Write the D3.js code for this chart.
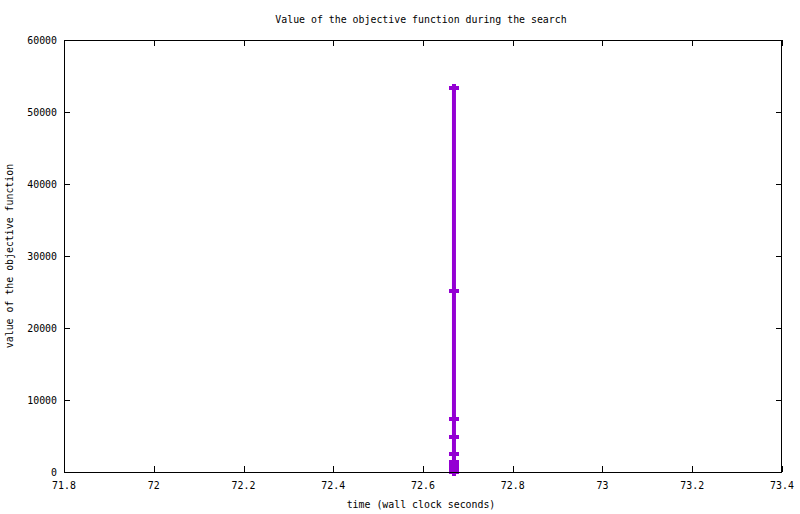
<!DOCTYPE html>
<html><head><meta charset="utf-8">
<script src="https://cdn.jsdelivr.net/npm/d3@7"></script>
<style>body{margin:0;background:#fff}svg text{font-family:"DejaVu Sans Mono","Liberation Mono",monospace;font-size:9.9px;fill:#000}</style>
</head><body>
<svg id="c" width="800" height="514"></svg>
<script>
const timeValues = [72.669,72.669,72.669,72.669,72.669,72.669,72.669,72.669,72.669,72.669,72.669,72.669];
const objectiveValues = [53300,25200,7400,4800,2500,1400,1100,800,500,300,100,0];
const xTicks = [71.8,72,72.2,72.4,72.6,72.8,73,73.2,73.4];
const yTicks = [0,10000,20000,30000,40000,50000,60000];
const title = "Value of the objective function during the search";
const xLabel = "time (wall clock seconds)";
const yLabel = "value of the objective function";

const svg = d3.select("#c");
const L=64,R=782,T=40,B=472;
const x = d3.scaleLinear().domain([71.8,73.4]).range([L,R]);
const y = d3.scaleLinear().domain([0,60000]).range([B,T]);
const color = "#9400d3";

const g = svg.append("g").attr("stroke","#000").attr("stroke-width",1).attr("shape-rendering","crispEdges");
xTicks.forEach(v=>{
  const px=Math.round(x(v))+0.5;
  g.append("line").attr("x1",px).attr("x2",px).attr("y1",B).attr("y2",B-6);
  g.append("line").attr("x1",px).attr("x2",px).attr("y1",T).attr("y2",T+6);
});
yTicks.forEach(v=>{
  const py=Math.round(y(v))+0.5;
  g.append("line").attr("x1",L).attr("x2",L+6).attr("y1",py).attr("y2",py);
  g.append("line").attr("x1",R).attr("x2",R-6).attr("y1",py).attr("y2",py);
});
xTicks.forEach(v=>{
  svg.append("text").attr("x",x(v)).attr("y",489).attr("text-anchor","middle").text(d3.format("")(v));
});
yTicks.forEach(v=>{
  svg.append("text").attr("x",57).attr("y",y(v)+3.5).attr("text-anchor","end").text(v);
});

const data = timeValues.map((t,i)=>({t, v: objectiveValues[i]}));
svg.append("path").datum(data)
  .attr("d", d3.line().x(d=>x(d.t)).y(d=>y(d.v)))
  .attr("fill","none").attr("stroke",color).attr("stroke-width",4);
const mk = svg.append("g").attr("fill",color).attr("shape-rendering","crispEdges");
data.forEach(d=>{
  const cx=x(d.t), cy=y(d.v);
  mk.append("rect").attr("x",cx-5).attr("y",cy-2).attr("width",10).attr("height",4);
  mk.append("rect").attr("x",cx-2).attr("y",cy-4).attr("width",4).attr("height",8);
});

svg.append("rect").attr("x",L+0.5).attr("y",T+0.5).attr("width",R-L-1).attr("height",B-T)
  .attr("fill","none").attr("stroke","#000").attr("shape-rendering","crispEdges");

svg.append("text").attr("x",421).attr("y",23).attr("text-anchor","middle").text(title);
svg.append("text").attr("x",421).attr("y",508).attr("text-anchor","middle").text(xLabel);
svg.append("text").attr("transform","translate(13,256) rotate(-90)").attr("text-anchor","middle").text(yLabel);
</script>
</body></html>
